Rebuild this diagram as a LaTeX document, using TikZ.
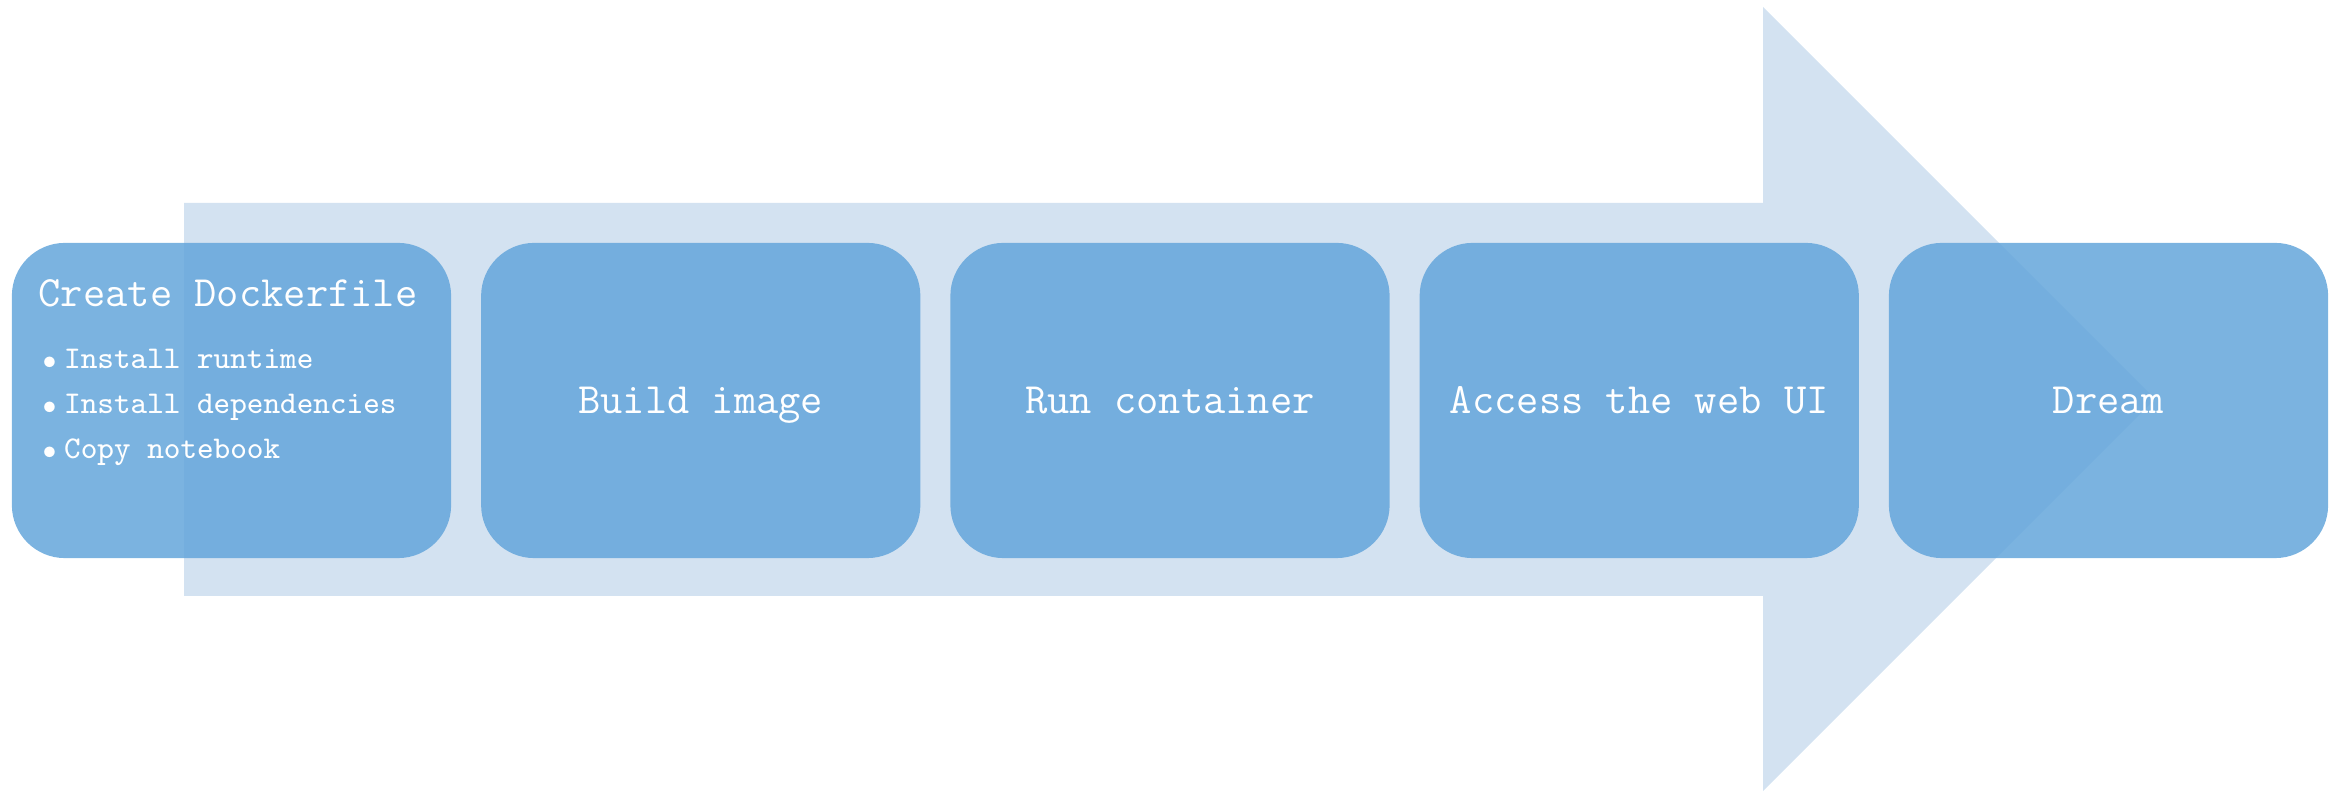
\documentclass[tikz,border=0pt]{standalone}
\definecolor{arrowblue}{RGB}{211,226,241}
\definecolor{boxblue}{RGB}{100,166,219}
\tikzset{
  stepbox/.style={rounded corners=0.53cm, minimum width=4.39cm, minimum height=3.15cm,
    inner sep=0pt, fill=boxblue, fill opacity=0.85, text opacity=1, text=white,
    text height=0.26cm, text depth=0cm, font=\ttfamily\fontsize{12.3}{14}\selectfont},
  titletext/.style={inner sep=0pt, anchor=base west, text=white, font=\ttfamily\fontsize{12.3}{14}\selectfont},
  itemtext/.style={inner sep=0pt, anchor=base west, text=white, font=\ttfamily\fontsize{9}{11}\selectfont},
  bullettext/.style={inner sep=0pt, anchor=base west, text=white, font=\fontsize{7}{8}\selectfont}
}
\begin{document}
\begin{tikzpicture}[x=0.01cm,y=-0.01cm]
\useasboundingbox (0,0) rectangle (2341,795);
\fill[arrowblue] (184,203) -- (1763,203) -- (1763,7) -- (2155,399) -- (1763,791) -- (1763,596) -- (184,596) -- cycle;
\node[stepbox] (s1) at (231.5,400.5) {};
\node[stepbox] (s2) at (700.75,400.5) {Build image};
\node[stepbox] (s3) at (1170,400.5) {Run container};
\node[stepbox] (s4) at (1639.25,400.5) {Access the web UI};
\node[stepbox] (s5) at (2108.5,400.5) {Dream};
\node[titletext] (t1) at (38,307) {Create Dockerfile};
\node[bullettext] (b1) at (41.6,369) {$\bullet$};
\node[itemtext] (i1) at (63.5,369) {Install runtime};
\node[bullettext] (b2) at (41.6,414) {$\bullet$};
\node[itemtext] (i2) at (63.5,414) {Install dependencies};
\node[bullettext] (b3) at (41.6,459) {$\bullet$};
\node[itemtext] (i3) at (63.5,459) {Copy notebook};
\end{tikzpicture}
\end{document}
